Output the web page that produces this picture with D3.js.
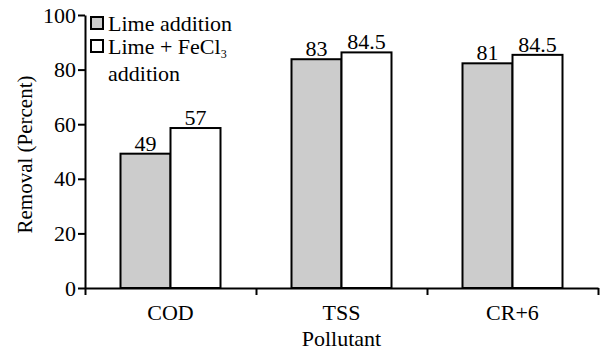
<!DOCTYPE html>
<html>
<head>
<meta charset="utf-8">
<script src="https://cdn.jsdelivr.net/npm/d3@7"></script>
<style>
    body { margin: 0; background: #fff; }
</style>
</head>
<body>
<svg width="601" height="352"></svg>
<script>
const categories = ['COD', 'TSS', 'CR+6'];
const seriesNames = ['Lime addition', 'Lime + FeCl3 addition'];
// bar heights as drawn in the picture
const limeValues = [49.2, 83.8, 82.3];
const fecl3Values = [58.6, 86.3, 85.4];
// numbers printed above the bars
const limeLabels = ['49', '83', '81'];
const fecl3Labels = ['57', '84.5', '84.5'];
const yTicks = [0, 20, 40, 60, 80, 100];

const FONT = 'Liberation Serif';
const FS = 22;
const svg = d3.select('svg');
const mLeft = 85;
const mRight = 598;
const mTop = 15;
const mBottom = 288;

const colors = ['#cccccc', '#ffffff'];

const y = d3.scaleLinear().domain([0, 100]).range([mBottom, mTop]);
const x0 = d3.scaleBand().domain(categories).range([mLeft, mRight]);
const x1 = d3.scaleBand()
    .domain([0, 1])
    .range([x0.bandwidth() / 2 - 50, x0.bandwidth() / 2 + 50]);
const xEdges = d3.scaleLinear().domain([0, categories.length]).range([mLeft, mRight]);

const rows = categories.map((c, i) => ({
    cat: c,
    bars: [
        { s: 0, v: limeValues[i], label: limeLabels[i] },
        { s: 1, v: fecl3Values[i], label: fecl3Labels[i] },
    ],
}));

const group = svg.append('g')
    .selectAll('g')
    .data(rows)
    .enter()
    .append('g')
    .attr('transform', d => `translate(${x0(d.cat)},0)`);

group.selectAll('rect')
    .data(d => d.bars)
    .enter()
    .append('rect')
    .attr('x', d => x1(d.s))
    .attr('y', d => y(d.v))
    .attr('width', x1.bandwidth())
    .attr('height', d => y(0) - y(d.v))
    .attr('fill', d => colors[d.s])
    .attr('stroke', '#000')
    .attr('stroke-width', 2);

group.selectAll('text')
    .data(d => d.bars)
    .enter()
    .append('text')
    .attr('x', d => x1(d.s) + x1.bandwidth() / 2)
    .attr('y', d => y(d.v) - 3)
    .attr('text-anchor', 'middle')
    .attr('font-size', FS)
    .text(d => d.label);

// axes
const yAxis = svg.append('g')
    .attr('transform', `translate(${mLeft},0)`)
    .call(d3.axisLeft(y).tickValues(yTicks).tickSize(7).tickSizeOuter(0).tickPadding(2));

const xAxis = svg.append('g')
    .attr('transform', `translate(0,${mBottom})`)
    .call(d3.axisBottom(xEdges).tickValues(d3.range(categories.length + 1))
        .tickFormat('').tickSize(7).tickSizeOuter(0));

[yAxis, xAxis].forEach((a) => {
    a.attr('font-family', null);
    a.selectAll('path, line').attr('stroke', '#000').attr('stroke-width', 2);
});
yAxis.selectAll('text')
    .attr('font-size', FS)
    .attr('fill', '#000');

svg.append('g')
    .selectAll('text')
    .data(categories)
    .enter()
    .append('text')
    .attr('x', d => x0(d) + x0.bandwidth() / 2)
    .attr('y', 320)
    .attr('text-anchor', 'middle')
    .attr('font-size', FS)
    .text(d => d);

svg.append('text')
    .attr('x', (mLeft + mRight) / 2)
    .attr('y', 346)
    .attr('text-anchor', 'middle')
    .attr('font-size', FS)
    .text('Pollutant');

svg.append('text')
    .attr('transform', `translate(32,${(mTop + mBottom) / 2 + 3}) rotate(-90)`)
    .attr('text-anchor', 'middle')
    .attr('font-size', 21)
    .text('Removal (Percent)');

// legend
const legend = svg.append('g').attr('transform', 'translate(91,17)');
legend.selectAll('rect')
    .data(seriesNames)
    .enter()
    .append('rect')
    .attr('x', 0)
    .attr('y', (d, i) => i * 23)
    .attr('width', 12)
    .attr('height', 12)
    .attr('fill', (d, i) => colors[i])
    .attr('stroke', '#000')
    .attr('stroke-width', 2);

legend.append('text')
    .attr('x', 17)
    .attr('y', 14)
    .attr('font-size', FS)
    .text(seriesNames[0]);

const l2 = legend.append('text')
    .attr('x', 17)
    .attr('y', 37)
    .attr('font-size', FS);
l2.append('tspan').text('Lime + FeCl');
l2.append('tspan').attr('font-size', 12).attr('dy', 4).text('3');
legend.append('text')
    .attr('x', 17)
    .attr('y', 64)
    .attr('font-size', FS)
    .text('addition');

svg.selectAll('text').attr('font-family', FONT).attr('fill', '#000');
</script>
</body>
</html>
